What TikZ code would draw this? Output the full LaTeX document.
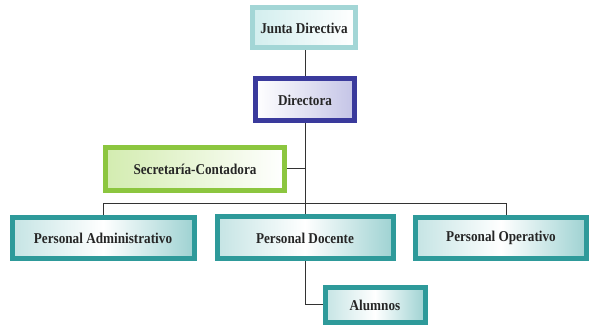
\documentclass[tikz,border=0pt]{standalone}
\usepackage{fontspec}
\usepackage{tikz}
\usetikzlibrary{positioning, calc}
\newfontfamily\orgfont[FakeStretch=0.88]{Liberation Serif}
\definecolor{juntaborde}{HTML}{A3D6D6}
\definecolor{juntafondo}{HTML}{D2EEEE}
\definecolor{dirborde}{HTML}{3A3A9C}
\definecolor{dirfondo}{HTML}{C4C4E6}
\definecolor{secborde}{HTML}{8CC63F}
\definecolor{secfondo}{HTML}{D3ECB0}
\definecolor{persborde}{HTML}{2E9A9A}
\definecolor{persfondo}{HTML}{9ED2D2}

\tikzset{
  cargo/.style={rectangle, line width=5pt, text=black!85,
    font=\orgfont\bfseries\fontsize{15}{17}\selectfont,
    inner sep=2pt, align=center},
  junta/.style={cargo, draw=juntaborde, left color=juntafondo, right color=white},
  directivo/.style={cargo, draw=dirborde, left color=white, right color=dirfondo},
  secretaria/.style={cargo, draw=secborde, left color=secfondo, right color=white},
  personal/.style={cargo, draw=persborde, left color=persfondo!60, right color=persfondo,
    middle color=white},
  enlace/.style={line width=1pt, black!80}
}

\begin{document}
\begin{tikzpicture}[x=1pt, y=1pt]
  \useasboundingbox (0,0) rectangle (589,328);
  % Cargos
  \node[junta, minimum width=103pt, minimum height=40pt] (junta) at (304,300) {Junta Directiva};
  \node[directivo, minimum width=99pt, minimum height=42pt] (directora) at (305,228) {Directora};
  \node[secretaria, minimum width=179pt, minimum height=43pt] (secretaria) at (195,159) {Secretaría-Contadora};
  \node[personal, minimum width=182pt, minimum height=41pt] (admin) at (103,90) {Personal Administrativo};
  \node[personal, minimum width=176pt, minimum height=42pt] (docente) at (305,90) {Personal Docente};
  \node[personal, minimum width=171pt, minimum height=41pt] (operativo) at (501,90) {Personal Operativo};
  \node[personal, minimum width=100pt, minimum height=35pt] (alumnos) at (375,23) {Alumnos};
  % Líneas
  \coordinate (bus izq) at (103,124);
  \coordinate (bus der) at (506,124);
  \draw[enlace] (junta.south -| directora.north) -- (directora.north);
  \draw[enlace] (directora.south) -- (docente.north);
  \draw[enlace] (secretaria.east) -- (secretaria.east -| directora.south);
  \draw[enlace] (admin.north -| bus izq) -- (bus izq) -- (bus der) -- (bus der |- operativo.north);
  \draw[enlace] (docente.south) |- (alumnos.west);
\end{tikzpicture}
\end{document}
